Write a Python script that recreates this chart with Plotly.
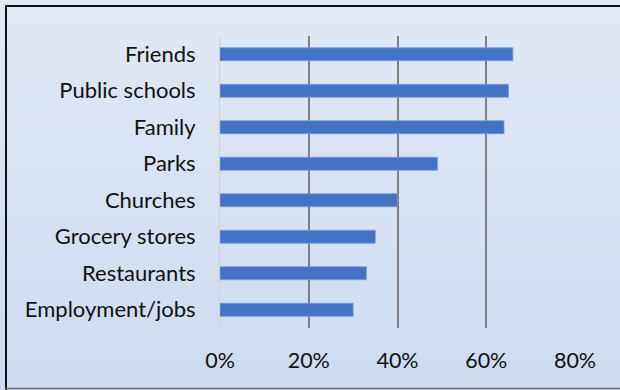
import plotly.graph_objects as go

categories = ["Friends", "Public schools", "Family", "Parks", "Churches",
              "Grocery stores", "Restaurants", "Employment/jobs"]
values = [0.66, 0.65, 0.64, 0.49, 0.40, 0.35, 0.33, 0.30]
x_ticks = [0, 0.2, 0.4, 0.6, 0.8]
x_ticktext = ["0%", "20%", "40%", "60%", "80%"]

W, H = 620, 390
L, R, T, B = 220, 45, 36, 62
PW, PH = W - L - R, H - T - B

def px(x):
    return (x - L) / PW

def py(y):
    return (H - B - y) / PH

shapes = []
# vertical gradient background approximated with bands
top_c = (225, 232, 244)
bot_c = (206, 219, 240)
n = 39
for i in range(n):
    t = i / (n - 1)
    c = tuple(round(top_c[k] + (bot_c[k] - top_c[k]) * t) for k in range(3))
    y0 = i * H / n
    y1 = (i + 1) * H / n + 0.5
    shapes.append(dict(type="rect", xref="paper", yref="paper", layer="below",
                       x0=px(0), x1=px(W), y0=py(y1), y1=py(y0),
                       fillcolor="rgb(%d,%d,%d)" % c, line=dict(width=0)))
# chart border
shapes.append(dict(type="line", xref="paper", yref="paper", layer="above",
                   x0=px(5), x1=px(W + 5), y0=py(6), y1=py(6),
                   line=dict(color="#111111", width=2)))
shapes.append(dict(type="line", xref="paper", yref="paper", layer="above",
                   x0=px(6), x1=px(6), y0=py(5), y1=py(H + 5),
                   line=dict(color="#111111", width=2)))
shapes.append(dict(type="line", xref="paper", yref="paper", layer="above",
                   x0=px(5), x1=px(W + 5), y0=py(388.5), y1=py(388.5),
                   line=dict(color="#6b6b6b", width=1.5)))

fig = go.Figure(go.Bar(
    x=values, y=categories, orientation="h",
    marker=dict(color="#4472c4", line=dict(color="#7b9ad6", width=0.8)),
))

font = "Lato, 'Open Sans', sans-serif"
fig.update_layout(
    width=W, height=H,
    margin=dict(l=L, r=R, t=T, b=B, pad=0),
    paper_bgcolor="rgb(225,232,244)",
    plot_bgcolor="rgba(0,0,0,0)",
    bargap=0.645,
    showlegend=False,
    shapes=shapes,
    font=dict(family=font, size=22, color="#111111"),
)
fig.update_xaxes(range=[0, 0.8], tickvals=x_ticks, ticktext=x_ticktext,
                 showgrid=True, gridcolor="#7f7f7f", gridwidth=1.5,
                 zeroline=False, showline=False, ticks="",
                 ticklabelstandoff=17, tickfont=dict(size=21.5, family=font))
fig.update_yaxes(categoryorder="array", categoryarray=categories,
                 autorange="reversed", showgrid=False, ticks="",
                 showline=True, linecolor="#d0d0d0", linewidth=1,
                 ticklabelstandoff=19, tickfont=dict(size=22, family=font))

fig.write_html("out.html")
